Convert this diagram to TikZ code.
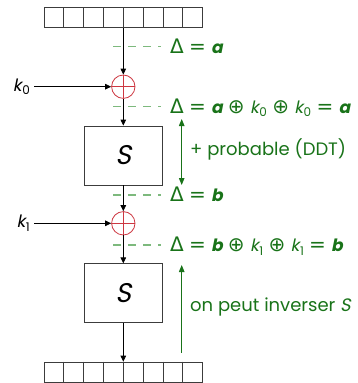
\documentclass[tikz,border=0pt]{standalone}
\usepackage{fontspec}
\setmainfont{Poppins}[
  ItalicFont={*}, ItalicFeatures={FakeSlant=0.2},
  BoldItalicFont={*/B}, BoldItalicFeatures={FakeSlant=0.2}]
\newfontfamily\symfont{DejaVu Sans}
\usetikzlibrary{arrows.meta,calc}

\definecolor{dgreen}{RGB}{25,115,25}
\definecolor{lgreen}{RGB}{125,185,125}
\definecolor{xred}{RGB}{205,55,65}
\definecolor{boxgray}{RGB}{60,60,60}

% symbols of the difference equations
\newcommand\dlt{{\symfont\fontsize{20}{22}\selectfont Δ}}
\newcommand\opsym[1]{\hspace{.31em}{\symfont\fontsize{20}{22}\selectfont #1}\hspace{.31em}}
\newcommand\vb[1]{\textbf{\textit{#1}}}
\newcommand\kk[1]{\textit{k}\kern.04em\raisebox{-.2em}{\fontsize{12}{14}\selectfont #1}}

\tikzset{
  reg/.style={draw=boxgray, line width=0.8pt, minimum width=158pt, minimum height=20.2pt, inner sep=0pt},
  sbox/.style={draw=boxgray, line width=0.8pt, minimum width=78.7pt, minimum height=59pt, inner sep=0pt,
    font=\fontsize{27}{30}\selectfont\itshape},
  xorn/.style={circle, draw=xred, line width=0.8pt, minimum size=23.4pt, inner sep=0pt,
    path picture={\draw[xred, line width=0.8pt]
      (path picture bounding box.north) -- (path picture bounding box.south)
      (path picture bounding box.west) -- (path picture bounding box.east);}},
  arr/.style={draw=black, line width=0.8pt, -{Triangle[length=6pt,width=5.5pt]}},
  garr/.style={draw=dgreen, line width=1pt},
  dline/.style={draw=lgreen, line width=1.2pt, dash pattern=on 8pt off 7pt},
  eqn/.style={anchor=base west, inner sep=3pt, text=dgreen, font=\fontsize{17}{20}\selectfont},
  gtext/.style={anchor=west, inner sep=3pt, text=dgreen, font=\fontsize{18}{21}\selectfont},
  klabel/.style={anchor=east, inner sep=4pt, font=\fontsize{17}{20}\selectfont}
}

\begin{document}
\begin{tikzpicture}[x=1pt, y=-1pt]
\useasboundingbox (0,0) rectangle (357,383);

% difference markers (drawn first, behind the data path)
\coordinate (d0) at (113,46.7);
\coordinate (d1) at (113,106.7);
\coordinate (d2) at (113,195);
\coordinate (d3) at (113,245);
\node[eqn] (e0) at (167,53.5) {\dlt\opsym{=}\vb{a}};
\node[eqn] (e1) at (167,113.5) {\dlt\opsym{=}\vb{a}\opsym{⊕}\kk{0}\opsym{⊕}\kk{0}\opsym{=}\vb{a}};
\node[eqn] (e2) at (167,201.8) {\dlt\opsym{=}\vb{b}};
\node[eqn] (e3) at (167,251.8) {\dlt\opsym{=}\vb{b}\opsym{⊕}\kk{1}\opsym{⊕}\kk{1}\opsym{=}\vb{b}};
\foreach \d/\e in {d0/e0,d1/e1,d2/e2,d3/e3}
  \draw[dline] (\d) -- ([xshift=-6pt]\e.west |- \d);

% input register
\node[reg] (in) at (123.3,17.5) {};
\foreach \i in {1,...,7}
  \draw[boxgray, line width=0.8pt] ($(in.north west)!\i/8!(in.north east)$) -- ($(in.south west)!\i/8!(in.south east)$);

% output register
\node[reg] (out) at (123.3,372.2) {};
\foreach \i in {1,...,7}
  \draw[boxgray, line width=0.8pt] ($(out.north west)!\i/8!(out.north east)$) -- ($(out.south west)!\i/8!(out.south east)$);

% key additions and S-boxes
\node[xorn] (x0) at (123.3,86.7) {};
\node[xorn] (x1) at (123.3,223.3) {};
\node[sbox] (s0) at (123.3,155.5) {S};
\node[sbox] (s1) at (123.3,293.3) {S};

\node[klabel] (k0) at (34,86.7) {\kk{0}};
\node[klabel] (k1) at (34,223.3) {\kk{1}};

% data path
\draw[arr] (in) -- (x0);
\draw[arr] (x0) -- (s0);
\draw[arr] (s0) -- (x1);
\draw[arr] (x1) -- (s1);
\draw[arr] (s1) -- (out);
\draw[arr] (k0) -- (x0);
\draw[arr] (k1) -- (x1);

% annotations
\coordinate (a0) at (181.7,119);
\coordinate (a1) at (181.7,185);
\coordinate (b0) at (181.7,352.7);
\coordinate (b1) at (181.7,265);
\draw[garr, {Triangle[length=7pt,width=5.5pt]}-{Triangle[length=7pt,width=5.5pt]}] (a0) -- (a1);
\draw[garr, -{Triangle[length=7pt,width=5.5pt]}] (b0) -- (b1);
\node[gtext] (t0) at (187,149) {+ probable (DDT)};
\node[gtext] (t1) at (187,306.7) {on peut inverser \textit{S}};
\end{tikzpicture}
\end{document}
